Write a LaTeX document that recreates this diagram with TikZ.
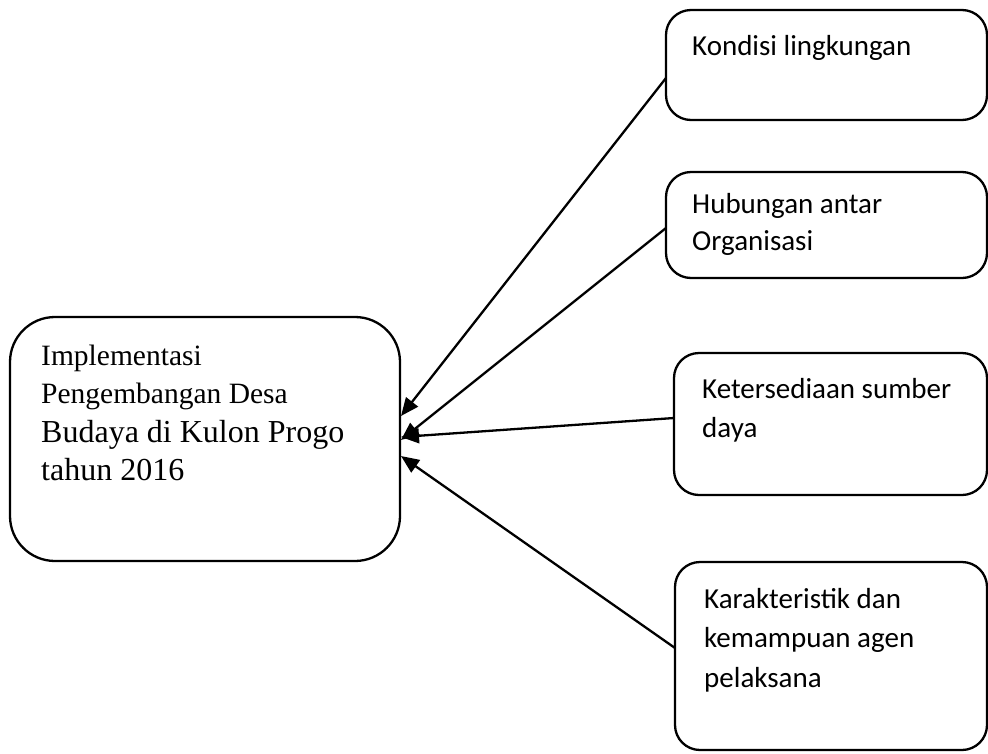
\documentclass[tikz,border=0pt]{standalone}
\usepackage{fontspec}
\setmainfont{Liberation Serif}
\newfontfamily\calfont{Carlito}
\usetikzlibrary{arrows.meta,calc}
\begin{document}
\begin{tikzpicture}[x=1pt,y=-1pt,
  bigbox/.style={draw,line width=2.3pt,rounded corners=45pt,inner sep=0pt,outer sep=0pt},
  smallbox/.style={draw,line width=2.3pt,rounded corners=25pt,inner sep=0pt,outer sep=0pt},
  serA/.style={anchor=base west,inner sep=0pt,font=\fontsize{29.5}{35}\selectfont},
  serB/.style={anchor=base west,inner sep=0pt,font=\fontsize{32}{38}\selectfont},
  caltxt/.style={anchor=base west,inner sep=0pt,font=\calfont\fontsize{29}{35}\selectfont},
  arr/.style={line width=2.3pt,-{Triangle[length=18pt,width=15pt]}}]
\useasboundingbox (0,0) rectangle (988,753);
\fill[white] (0,0) rectangle (988,753);
% boxes
\node[bigbox,minimum width=390pt,minimum height=244pt] (imp) at (205,439) {};
\node[smallbox,minimum width=321pt,minimum height=110pt] (k) at (826.5,65) {};
\node[smallbox,minimum width=321pt,minimum height=106pt] (h) at (826.5,225) {};
\node[smallbox,minimum width=313pt,minimum height=142pt] (ks) at (830.5,424) {};
\node[smallbox,minimum width=312pt,minimum height=188pt] (kr) at (831,656) {};
% texts
\node[serA] (i1) at (41,365) {Implementasi};
\node[serA] (i2) at (41,403) {Pengembangan Desa};
\node[serB] (i3) at (41,442) {Budaya di Kulon Progo};
\node[serB] (i4) at (41,480) {tahun 2016};
\node[caltxt] (k1) at (692,55) {Kondisi lingkungan};
\node[caltxt] (h1) at (692,213) {Hubungan antar};
\node[caltxt] (h2) at (692,250) {Organisasi};
\node[caltxt] (s1) at (702,398) {Ketersediaan sumber};
\node[caltxt] (s2) at (702,437) {daya};
\node[caltxt] (r1) at (704,608) {Karakteristik dan};
\node[caltxt] (r2) at (704,647) {kemampuan agen};
\node[caltxt] (r3) at (704,687) {pelaksana};
% arrows
\draw[arr] ($(k.west)+(0,13)$) -- ($(imp.east)+(1,-23)$);
\draw[arr] ($(h.west)+(0,3)$) -- ($(imp.east)+(1,1)$);
\draw[arr] ($(ks.west)+(0,-6)$) -- ($(imp.east)+(1,-2)$);
\draw[arr] ($(kr.west)+(0,-8)$) -- ($(imp.east)+(1,17)$);
\end{tikzpicture}
\end{document}
